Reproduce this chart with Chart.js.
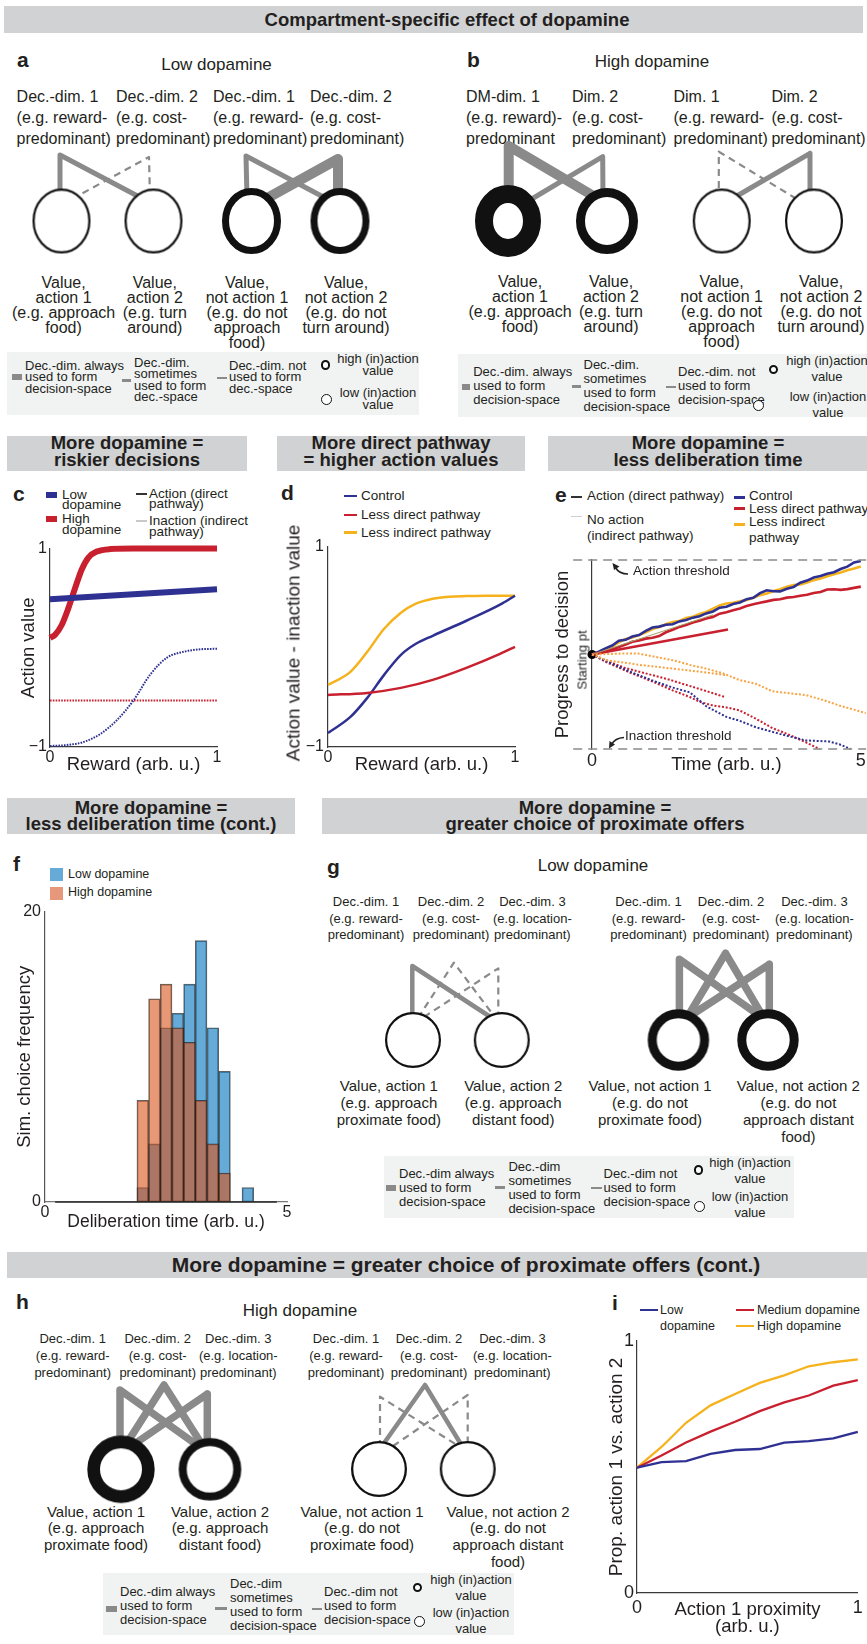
<!DOCTYPE html>
<html>
<head>
<meta charset="utf-8">
<title>Compartment-specific effect of dopamine</title>
<script src="https://cdn.jsdelivr.net/npm/chart.js@4.4.1/dist/chart.umd.min.js"></script>
<style>
html,body{margin:0;padding:0;background:#fff;}
#fig{position:relative;width:867px;height:1644px;overflow:hidden;font-family:"Liberation Sans",Arial,Helvetica,sans-serif;color:#231f20;}
.t{position:absolute;white-space:pre;}
.band{position:absolute;background:#d1d2d4;}
.box{position:absolute;background:#f1f2f2;}
.sw{position:absolute;}
canvas{position:absolute;}
</style>
</head>
<body>
<div id="fig"></div>
<script>
// ---------------- data ----------------
// c: action value vs reward (solid = direct pathway, dotted = indirect pathway)
const cHighActX   = [0, 0.03, 0.07, 0.11, 0.15, 0.19, 0.23, 0.28, 0.36, 0.5, 1.0];
const cHighActY   = [0.10, 0.13, 0.23, 0.40, 0.60, 0.79, 0.91, 0.97, 0.995, 1.0, 1.0];
const cLowActX    = [0, 1];
const cLowActY    = [0.49, 0.59];
const cLowInactX  = [0, 0.1, 0.2, 0.3, 0.4, 0.5, 0.6, 0.7, 0.8, 0.9, 1.0];
const cLowInactY  = [-0.99, -0.98, -0.95, -0.87, -0.73, -0.53, -0.27, -0.10, -0.04, -0.015, -0.01];
const cHighInactX = [0, 1];
const cHighInactY = [-0.53, -0.53];
const cXTicks = ['0', '1'];
const cYTicks = ['\u22121', '1'];

// d: action minus inaction value vs reward
const dCtrlX = [0, 0.12, 0.21, 0.30, 0.39, 0.47, 0.56, 0.74, 0.92, 1.0];
const dCtrlY = [-0.86, -0.70, -0.51, -0.28, -0.08, 0.03, 0.11, 0.26, 0.42, 0.51];
const dLessDirX = [0, 0.21, 0.39, 0.56, 0.74, 0.92, 1.0];
const dLessDirY = [-0.48, -0.46, -0.41, -0.33, -0.21, -0.07, 0.0];
const dLessIndX = [0, 0.12, 0.21, 0.30, 0.39, 0.47, 0.56, 0.65, 0.74, 0.85, 1.0];
const dLessIndY = [-0.38, -0.25, -0.05, 0.18, 0.34, 0.43, 0.48, 0.50, 0.506, 0.51, 0.51];

// e: accumulation towards action / inaction thresholds
const eT = [0, 0.125, 0.25, 0.375, 0.5, 0.625, 0.75, 0.875, 1, 1.125, 1.25, 1.375, 1.5, 1.625, 1.75, 1.875,
            2, 2.125, 2.25, 2.375, 2.5, 2.625, 2.75, 2.875, 3, 3.125, 3.25, 3.375, 3.5, 3.625, 3.75, 3.875,
            4, 4.125, 4.25, 4.375, 4.5, 4.625, 4.75, 4.875, 5, 5.08];
const eCtrlAct = [0, .03, .065, .095, .145, .155, .19, .205, .25, .285, .295, .315, .32, .35, .365, .39,
                  .405, .435, .455, .495, .505, .535, .55, .585, .6, .65, .68, .67, .668, .695, .715, .76,
                  .782, .815, .83, .855, .87, .905, .93, .975, .99, 1.0];
const eLessIndAct = [0, .02, .05, .085, .13, .165, .18, .205, .235, .27, .29, .32, .345, .355, .385, .4,
                     .43, .45, .485, .52, .54, .548, .562, .578, .6, .628, .645, .672, .69, .718, .735, .742,
                     .762, .787, .805, .828, .85, .868, .892, .91, .93, .945];
const eLessDirAct = [0, .015, .03, .055, .08, .105, .135, .148, .168, .178, .195, .235, .262, .292, .312, .338,
                     .358, .382, .398, .432, .448, .468, .488, .512, .532, .548, .562, .578, .585, .602, .608, .622,
                     .632, .65, .662, .688, .69, .684, .692, .705, .718, .735];
const eLessDirMeanT = [0, 2.53];
const eLessDirMeanY = [0, 0.265];
const eNoActMeanT = [0, 2.25];
const eNoActMeanY = [0, 0.42];
const eLessIndInactAT = [0, 0.55, 0.86, 1.5, 1.82, 2.13, 2.44, 2.74, 3.05, 3.36, 3.67, 3.98, 4.29, 4.6, 4.91, 5.09];
const eLessIndInactAY = [0, 0.01, 0.01, -0.06, -0.11, -0.15, -0.20, -0.27, -0.31, -0.39, -0.41, -0.43, -0.48, -0.54, -0.59, -0.62];
const eLessIndInactBT = [0, 0.27, 0.89, 1.51, 2.13, 2.5];
const eLessIndInactBY = [0, -0.06, -0.11, -0.15, -0.19, -0.22];
const eLessDirInactAT = [0, 0.3, 0.6, 1.0, 1.4, 1.8, 2.2, 2.47];
const eLessDirInactAY = [0, -0.07, -0.14, -0.20, -0.26, -0.33, -0.40, -0.45];
const eLessDirInactBT = [0, 0.3, 0.7, 1.1, 1.5, 1.82, 2.0, 2.25, 2.5, 2.74, 3.05, 3.36, 3.67, 3.98, 4.23];
const eLessDirInactBY = [0, -0.09, -0.19, -0.28, -0.38, -0.45, -0.50, -0.54, -0.56, -0.59, -0.68, -0.78, -0.85, -0.93, -1.0];
const eCtrlInactT = [0, 0.3, 0.7, 1.1, 1.5, 1.82, 2.13, 2.5, 2.74, 3.05, 3.49, 3.98, 4.41, 4.6, 4.81];
const eCtrlInactY = [0, -0.08, -0.18, -0.27, -0.35, -0.40, -0.55, -0.66, -0.70, -0.77, -0.84, -0.91, -0.92, -0.95, -1.0];
const eThresholds = [1, -1];
const eXTicks = ['0', '5'];

// f: histogram of simulated deliberation times
const fBinCenters = [0.331, 0.572, 0.814, 1.055, 1.296, 1.537, 1.779, 2.020, 2.261, 2.503,
                     2.744, 2.985, 3.226, 3.468, 3.709, 3.950, 4.191, 4.433, 4.674];
const fLowDop  = [0, 0, 0, 0, 0, 0, 0, 1, 4, 12, 13, 15, 18, 12, 9, 0, 1, 0, 0];
const fHighDop = [0, 0, 0, 0, 0, 0, 0, 7, 14, 15, 12, 11, 7, 4, 2, 0, 0, 0, 0];
const fBinRange = [0.21, 4.79];
const fXTicks = ['0', '5'];
const fYTicks = ['0', '20'];

// i: proportion choosing action 1 vs proximity
const iProximity = [0, 0.111, 0.222, 0.333, 0.444, 0.556, 0.667, 0.778, 0.889, 1.0];
const iLowDop    = [0.497, 0.519, 0.523, 0.552, 0.567, 0.571, 0.596, 0.602, 0.613, 0.639];
const iMedDop    = [0.497, 0.545, 0.597, 0.640, 0.679, 0.721, 0.756, 0.783, 0.822, 0.844];
const iHighDop   = [0.497, 0.579, 0.675, 0.744, 0.789, 0.833, 0.863, 0.899, 0.915, 0.926];
const iXTicks = ['0', '1'];
const iYTicks = ['0', '1'];

// ---------------- style ----------------
const BLUE = '#2e3192', RED = '#c8202f', YEL = '#f5b21d', ORANGE = '#f8a444';
const GREY = '#8a8a8a', INK = '#231f20';
const FONT = '"Liberation Sans", Arial, Helvetica, sans-serif';

Chart.defaults.font.family = FONT;
Chart.defaults.color = INK;
Chart.defaults.animation = false;
Chart.defaults.responsive = false;
Chart.defaults.maintainAspectRatio = false;
Chart.defaults.devicePixelRatio = 1;
Chart.defaults.events = [];
Chart.defaults.layout.autoPadding = false;
Chart.defaults.plugins.legend.display = false;
Chart.defaults.plugins.tooltip.enabled = false;

const fig = document.getElementById('fig');

// ---------------- html helpers ----------------
function text(lines, x, y, o = {}) {
  const size = o.size || 16, lh = o.lh || size * 1.15, align = o.align || 'left';
  const d = document.createElement('div');
  d.className = 't';
  d.style.fontSize = size + 'px';
  d.style.lineHeight = lh + 'px';
  if (o.bold) d.style.fontWeight = 'bold';
  d.style.textAlign = align;
  d.textContent = Array.isArray(lines) ? lines.join('\n') : lines;
  d.style.top = (y - lh / 2) + 'px';
  d.style.left = x + 'px';
  const tx = align === 'center' ? '-50%' : align === 'right' ? '-100%' : '0';
  d.style.transform = 'translateX(' + tx + ')';
  fig.appendChild(d);
  return d;
}
function vtext(str, cx, cy, size) {
  const d = document.createElement('div');
  d.className = 't';
  d.style.fontSize = size + 'px';
  d.style.lineHeight = size + 'px';
  d.textContent = str;
  d.style.left = cx + 'px';
  d.style.top = cy + 'px';
  d.style.transform = 'translate(-50%,-50%) rotate(-90deg)';
  fig.appendChild(d);
}
function rect(cls, l, t, w, h, extra = {}) {
  const d = document.createElement('div');
  d.className = cls;
  Object.assign(d.style, {left: l + 'px', top: t + 'px', width: w + 'px', height: h + 'px'}, extra);
  fig.appendChild(d);
  return d;
}
function ring(cx, cy, r, bw) {
  rect('sw', cx - r, cy - r, 2 * r - 2 * bw, 2 * r - 2 * bw,
       {border: bw + 'px solid #111', borderRadius: '50%', boxSizing: 'content-box', background: '#fff'});
}
function swatch(l, t, w, h, color) { rect('sw', l, t, w, h, {background: color}); }
function dashSwatch(l, y, w) { rect('sw', l, y - 1, w, 0, {borderTop: '2px dashed ' + GREY}); }
function canvasAt(l, t, w, h) {
  const c = document.createElement('canvas');
  c.width = w; c.height = h;
  Object.assign(c.style, {left: l + 'px', top: t + 'px', width: w + 'px', height: h + 'px'});
  fig.appendChild(c);
  return c;
}

// ---------------- chart helpers ----------------
const pts = (xs, ys) => xs.map((x, i) => ({x, y: ys[i]}));
function series(xs, ys, color, width, extra = {}) {
  return Object.assign({data: pts(xs, ys), showLine: true, borderColor: color, backgroundColor: color,
    borderWidth: width, pointRadius: 0, fill: false, clip: false}, extra);
}
function axis(o) {
  return {
    type: 'linear', min: o.min, max: o.max, offset: false, reverse: !!o.reverse,
    display: o.display !== false,
    grid: {display: false, drawTicks: false},
    border: {display: o.border !== false, color: o.borderColor || '#3a3a3a', width: 1.2},
    ticks: {display: !!o.labels, font: {size: o.tickSize || 16}, padding: o.tickPad ?? 3,
            color: INK, maxRotation: 0, autoSkip: false,
            callback: (v, i) => o.labels ? o.labels[i] : ''},
    afterBuildTicks: s => { s.ticks = [{value: o.min}, {value: o.max}]; },
    title: o.title ? {display: true, text: o.title, color: INK,
            font: {size: o.titleSize || 18.5, lineHeight: o.titleLH || 1.2}, padding: o.titlePad || 0}
                   : {display: false},
    afterFit: s => { if (o.fit != null) { if (s.isHorizontal()) s.height = o.fit; else s.width = o.fit; } }
  };
}
function plot(box, type, datasets, scales, padding) {
  const cv = canvasAt(box.l, box.t, box.w, box.h);
  return new Chart(cv, {type, data: {datasets}, options: {layout: {padding, autoPadding: false}, scales}});
}

// value node drawn as an (elliptical) ring, used as a point style
function ringImage(rx, ry, bw) {
  const c = document.createElement('canvas');
  c.width = Math.ceil(2 * rx + 2); c.height = Math.ceil(2 * ry + 2);
  const g = c.getContext('2d');
  g.beginPath();
  g.ellipse(c.width / 2, c.height / 2, rx - bw / 2, ry - bw / 2, 0, 0, Math.PI * 2);
  g.fillStyle = '#fff'; g.fill();
  g.lineWidth = bw; g.strokeStyle = '#111'; g.stroke();
  return c;
}

// schematic: decision dimensions (grey links) feeding value nodes (rings)
const LINK = {
  ab: {always: {w: 10}, some: {w: 5}, not: {w: 2.2, dash: [7, 5]}},
  gh: {always: {w: 7.5}, some: {w: 4.5}, not: {w: 2.2, dash: [7, 5]}}
};
function schematic(box, links, nodes, kinds) {
  const ds = [];
  links.forEach(k => {
    const st = kinds[k.kind];
    ds.push({data: k.pts.map(p => ({x: p[0], y: p[1]})), showLine: true, borderColor: GREY,
      borderWidth: st.w, borderDash: st.dash || [], borderJoinStyle: 'round', borderCapStyle: 'butt',
      pointRadius: 0, clip: false, order: 2});
  });
  nodes.forEach(n => {
    ds.push({data: [{x: n.x, y: n.y}], showLine: false, pointStyle: ringImage(n.rx, n.ry || n.rx, n.bw),
      pointRadius: n.rx, clip: false, order: 0});
  });
  plot(box, 'scatter', ds, {
    x: {type: 'linear', display: false, min: box.l, max: box.l + box.w},
    y: {type: 'linear', display: false, min: box.t, max: box.t + box.h, reverse: true}
  }, 0);
}

// legend box used in the schematic panels
function schemeLegend(L) {
  rect('box', L.box[0], L.box[1], L.box[2], L.box[3]);
  swatch(L.thick[0], L.thick[1] - 3, L.thick[2], 6, GREY);
  text(L.t1, L.thick[0] + L.thick[2] + 3, L.r1, {size: 13, lh: L.lh});
  swatch(L.thin[0], L.thin[1] - 1.5, L.thin[2], 3, GREY);
  text(L.t2, L.thin[0] + L.thin[2] + 3, L.r2, {size: 13, lh: L.lh});
  dashSwatch(L.dash[0], L.dash[1], L.dash[2]);
  text(L.t3, L.dash[0] + L.dash[2] + 2, L.r1, {size: 13, lh: L.lh});
  ring(L.hi[0], L.hi[1], 5.5, 2.6);
  text(['high (in)action', 'value'], L.hiT[0], L.hiT[1], {size: 13, lh: L.hlh, align: 'center'});
  ring(L.lo[0], L.lo[1], 5.5, 1);
  text(['low (in)action', 'value'], L.loT[0], L.loT[1], {size: 13, lh: L.hlh, align: 'center'});
}

// ---------------- banners ----------------
rect('band', 4, 6, 859, 27);
text('Compartment-specific effect of dopamine', 447, 19.5, {size: 18.5, bold: true, align: 'center'});
rect('band', 7, 436, 240, 35);
text(['More dopamine =', 'riskier decisions'], 127, 443.5, {size: 18.5, lh: 16.6, bold: true, align: 'center'});
rect('band', 277, 436, 248, 35);
text(['More direct pathway', '= higher action values'], 401, 443.5, {size: 18.5, lh: 16.6, bold: true, align: 'center'});
rect('band', 548, 436, 319, 35);
text(['More dopamine =', 'less deliberation time'], 708, 443.5, {size: 18.5, lh: 16.6, bold: true, align: 'center'});
rect('band', 7, 798, 288, 36);
text(['More dopamine =', 'less deliberation time (cont.)'], 151, 808, {size: 18.5, lh: 16.6, bold: true, align: 'center'});
rect('band', 322, 798, 545, 36);
text(['More dopamine =', 'greater choice of proximate offers'], 595, 808, {size: 18.5, lh: 16.6, bold: true, align: 'center'});
rect('band', 7, 1252, 860, 26);
text('More dopamine = greater choice of proximate offers (cont.)', 466, 1265.5, {size: 21, bold: true, align: 'center'});

// ---------------- panel letters ----------------
[['a', 17, 60], ['b', 467, 60], ['c', 13, 494], ['d', 281, 493], ['e', 555, 495],
 ['f', 13, 864], ['g', 327, 867], ['h', 16, 1302], ['i', 612, 1303]]
  .forEach(p => text(p[0], p[1], p[2], {size: 21, bold: true}));

// ---------------- panel a ----------------
text('Low dopamine', 216.5, 65, {size: 17, align: 'center'});
const dimA = [['Dec.-dim. 1', '(e.g. reward-', 'predominant)'], ['Dec.-dim. 2', '(e.g. cost-', 'predominant)']];
[[16.6, dimA[0]], [116, dimA[1]], [213, dimA[0]], [310, dimA[1]]]
  .forEach(c => text(c[1], c[0], 96, {size: 16, lh: 21}));
const valAB = [['Value,', 'action 1', '(e.g. approach', 'food)'],
               ['Value,', 'action 2', '(e.g. turn', 'around)'],
               ['Value,', 'not action 1', '(e.g. do not', 'approach', 'food)'],
               ['Value,', 'not action 2', '(e.g. do not', 'turn around)']];
[63.6, 154.8, 247, 346].forEach((x, i) => text(valAB[i], x, 282.5, {size: 16, lh: 15, align: 'center'}));
schematic({l: 0, t: 130, w: 440, h: 145}, [
  {kind: 'some',   pts: [[60, 198], [60, 155], [147, 201]]},
  {kind: 'not',    pts: [[72, 199], [149, 157], [150, 198]]},
  {kind: 'some',   pts: [[247, 198], [246, 156], [331, 201]]},
  {kind: 'always', pts: [[262, 201], [338, 159], [338, 198]]}
], [
  {x: 61.5, y: 221, rx: 29, ry: 32.5, bw: 2.2}, {x: 153.5, y: 221, rx: 29, ry: 32.5, bw: 2.2},
  {x: 251.5, y: 221, rx: 29.5, ry: 33, bw: 7}, {x: 340, y: 221, rx: 29.5, ry: 33, bw: 7}
], LINK.ab);
schemeLegend({box: [7, 352, 412, 63], lh: 11.5, hlh: 12,
  thick: [12, 377, 10], t1: ['Dec.-dim. always', 'used to form', 'decision-space'], r1: 365.7,
  thin: [121.6, 380, 9.5], t2: ['Dec.-dim.', 'sometimes', 'used to form', 'dec.-space'], r2: 362.7,
  dash: [217, 378, 10], t3: ['Dec.-dim. not', 'used to form', 'dec.-space'],
  hi: [326, 365.7], hiT: [378, 359], lo: [326, 399], loT: [378, 393.3]});

// ---------------- panel b ----------------
text('High dopamine', 652, 62, {size: 17, align: 'center'});
[[466, ['DM-dim. 1', '(e.g. reward)-', 'predominant']], [572, ['Dim. 2', '(e.g. cost-', 'predominant)']],
 [673.5, ['Dim. 1', '(e.g. reward-', 'predominant)']], [771.4, ['Dim. 2', '(e.g. cost-', 'predominant)']]]
  .forEach(c => text(c[1], c[0], 96, {size: 16, lh: 21}));
[520, 611, 721.6, 821].forEach((x, i) => text(valAB[i], x, 281.5, {size: 16, lh: 15, align: 'center'}));
schematic({l: 440, t: 130, w: 427, h: 145}, [
  {kind: 'always', pts: [[508.7, 203], [508.7, 146], [602, 201]]},
  {kind: 'some',   pts: [[530, 200], [602.7, 156.7], [603, 200]]},
  {kind: 'not',    pts: [[718.8, 200], [718.8, 151.7], [800, 201]]},
  {kind: 'some',   pts: [[730, 200], [810, 153.3], [810, 200]]}
], [
  {x: 508, y: 221, rx: 33, ry: 36, bw: 18}, {x: 607, y: 221, rx: 31, ry: 33, bw: 9},
  {x: 721.7, y: 221, rx: 29, ry: 32.5, bw: 2.2}, {x: 814, y: 221, rx: 29, ry: 32.5, bw: 2.2}
], LINK.ab);
schemeLegend({box: [458, 354, 409, 63], lh: 14, hlh: 16,
  thick: [461.7, 387, 8.5], t1: ['Dec.-dim. always', 'used to form', 'decision-space'], r1: 371.7,
  thin: [572, 386, 8.5], t2: ['Dec.-dim.', 'sometimes', 'used to form', 'decision-space'], r2: 365,
  dash: [666, 387, 10], t3: ['Dec.-dim. not', 'used to form', 'decision-space'],
  hi: [774, 370], hiT: [827, 360.7], lo: [758.6, 405], loT: [828, 396.7]});

// ---------------- panel c ----------------
swatch(46, 492, 11, 6, BLUE);
text(['Low', 'dopamine'], 62, 495, {size: 13.5, lh: 10.5});
swatch(46, 516, 11, 6, RED);
text(['High', 'dopamine'], 62, 519.5, {size: 13.5, lh: 10.5});
swatch(136, 493.3, 11, 1.5, '#333');
text(['Action (direct', 'pathway)'], 149, 494, {size: 13.5, lh: 10.5});
swatch(136, 520.3, 11, 1.5, '#c8c8c8');
text(['Inaction (indirect', 'pathway)'], 149, 521.5, {size: 13.5, lh: 10.5});
plot({l: 0, t: 536, w: 226, h: 244}, 'scatter', [
  series(cLowInactX, cLowInactY, BLUE, 2, {borderDash: [1.6, 1.2], cubicInterpolationMode: 'monotone'}),
  series(cHighInactX, cHighInactY, RED, 2, {borderDash: [1.6, 1.2]}),
  series(cLowActX, cLowActY, BLUE, 6),
  series(cHighActX, cHighActY, RED, 6, {cubicInterpolationMode: 'monotone'})
], {
  x: axis({min: 0, max: 1, labels: cXTicks, fit: 33, tickPad: 0.5, title: 'Reward (arb. u.)', titlePad: {top: 0, bottom: 3.9}}),
  y: axis({min: -1, max: 1, labels: cYTicks, fit: 50, tickPad: 3, title: 'Action value', titlePad: {top: 18, bottom: 0}})
}, {top: 10, right: 9, left: 0, bottom: 0});

// ---------------- panel d ----------------
swatch(344, 494.5, 13, 2.6, BLUE);
text('Control', 361, 495.7, {size: 13.5});
swatch(344, 513.7, 13, 2.6, RED);
text('Less direct pathway', 361, 515, {size: 13.5});
swatch(344, 531.4, 13, 2.6, YEL);
text('Less indirect pathway', 361, 532.7, {size: 13.5});
plot({l: 280, t: 533, w: 245, h: 247}, 'scatter', [
  series(dLessDirX, dLessDirY, RED, 2.5, {cubicInterpolationMode: 'monotone'}),
  series(dCtrlX, dCtrlY, BLUE, 2.5, {cubicInterpolationMode: 'monotone'}),
  series(dLessIndX, dLessIndY, YEL, 2.5, {cubicInterpolationMode: 'monotone'})
], {
  x: axis({min: 0, max: 1, labels: cXTicks, fit: 33, tickPad: 0.5, title: 'Reward (arb. u.)', titlePad: {top: 0, bottom: 3.9}}),
  y: axis({min: -1, max: 1, labels: cYTicks, fit: 48, tickPad: 4})
}, {top: 10, right: 10, left: 0, bottom: 0});
// the y title is longer than the plot is tall, so it is set outside the canvas
vtext('Action value - inaction value', 293, 642.5, 19);

// ---------------- panel e ----------------
swatch(571, 496.3, 11, 1.4, '#333');
text('Action (direct pathway)', 587, 496, {size: 13.5});
swatch(571, 516.3, 11, 1.2, '#d0d0d0');
text(['No action', '(indirect pathway)'], 587, 520, {size: 13.5, lh: 16});
swatch(734, 495.5, 11, 3, BLUE);
text('Control', 749, 496, {size: 13.5});
swatch(734, 506.5, 11, 3, RED);
text('Less direct pathway', 749, 508.7, {size: 13.5});
swatch(734, 522.5, 11, 3, YEL);
text(['Less indirect', 'pathway'], 749, 521.7, {size: 13.5, lh: 16});
const eDot = {borderDash: [2, 1.8]};
plot({l: 548, t: 540, w: 319, h: 240}, 'scatter', [
  series([-0.35, 5.1], [eThresholds[0], eThresholds[0]], GREY, 1.6, {borderDash: [9, 6]}),
  series([-0.35, 5.1], [eThresholds[1], eThresholds[1]], GREY, 1.6, {borderDash: [9, 6]}),
  series(eLessIndInactAT, eLessIndInactAY, ORANGE, 2, eDot),
  series(eLessIndInactBT, eLessIndInactBY, ORANGE, 2, eDot),
  series(eCtrlInactT, eCtrlInactY, BLUE, 2, eDot),
  series(eLessDirInactAT, eLessDirInactAY, RED, 2, eDot),
  series(eLessDirInactBT, eLessDirInactBY, RED, 2, eDot),
  series(eNoActMeanT, eNoActMeanY, '#a29f62', 1),
  series(eLessDirMeanT, eLessDirMeanY, RED, 2.6),
  series(eT, eLessDirAct, RED, 2.6),
  series(eT, eCtrlAct, BLUE, 2.6),
  series(eT, eLessIndAct, YEL, 2.6),
  {data: [{x: 0, y: 0}], showLine: false, pointRadius: 4.5, pointBackgroundColor: '#000', pointBorderWidth: 0, clip: false}
], {
  x: axis({min: 0, max: 5, labels: eXTicks, fit: 31, tickSize: 18, tickPad: 1.2, border: false, title: 'Time (arb. u.)', titlePad: {top: 0, bottom: 3.9}}),
  y: axis({min: -1, max: 1, fit: 44, title: 'Progress to decision', titlePad: {top: 4.2, bottom: 0}})
}, {top: 20, right: 5, left: 0, bottom: 0});
vtext('Starting pt', 582.3, 660, 13);
text('Action threshold', 633, 571, {size: 13.5});
text('Inaction threshold', 625, 736, {size: 13.5});
(function arrows() {
  const ns = 'http://www.w3.org/2000/svg';
  const svg = document.createElementNS(ns, 'svg');
  svg.setAttribute('width', 867); svg.setAttribute('height', 800);
  Object.assign(svg.style, {position: 'absolute', left: 0, top: 0, overflow: 'visible'});
  const paths = ['M628 574 Q619 574 615.5 567.5', 'M624 737.5 Q615 738 611.5 744.5'];
  const heads = ['M612.5 563 L619.5 566.5 L614 570 Z', 'M609 748.5 L609.5 741 L615 744.5 Z'];
  paths.forEach(p => { const e = document.createElementNS(ns, 'path'); e.setAttribute('d', p);
    e.setAttribute('fill', 'none'); e.setAttribute('stroke', '#222'); e.setAttribute('stroke-width', '1.6'); svg.appendChild(e); });
  heads.forEach(p => { const e = document.createElementNS(ns, 'path'); e.setAttribute('d', p);
    e.setAttribute('fill', '#222'); svg.appendChild(e); });
  fig.appendChild(svg);
})();

// ---------------- panel f ----------------
swatch(50, 868, 13, 13, '#66aad7');
text('Low dopamine', 68, 874, {size: 12.5});
swatch(50, 886.7, 13, 13, '#e8987a');
text('High dopamine', 68, 892, {size: 12.5});
plot({l: 0, t: 898, w: 300, h: 336}, 'bar', [
  Object.assign(series(fBinRange, [0, 0], '#2a2a2a', 1.6), {type: 'line', order: 0}),
  {type: 'bar', data: pts(fBinCenters, fHighDop), backgroundColor: 'rgba(217,83,25,0.6)',
   borderColor: 'rgba(30,30,30,0.7)', borderWidth: 1, borderSkipped: false, order: 1,
   grouped: false, barPercentage: 1, categoryPercentage: 1},
  {type: 'bar', data: pts(fBinCenters, fLowDop), backgroundColor: 'rgba(0,114,189,0.6)',
   borderColor: 'rgba(30,30,30,0.7)', borderWidth: 1, borderSkipped: false, order: 2,
   grouped: false, barPercentage: 1, categoryPercentage: 1}
], {
  x: axis({min: 0, max: 5, labels: fXTicks, fit: 32, tickPad: 1.4, borderColor: '#777', title: 'Deliberation time (arb. u.)', titleSize: 17.5, titlePad: {top: 0, bottom: 1.5}}),
  y: axis({min: 0, max: 20, labels: fYTicks, fit: 45, tickPad: 4, borderColor: '#555', title: 'Sim. choice frequency', titlePad: {top: 13.9, bottom: 0}})
}, {top: 10, right: 13, left: 0, bottom: 0});

// ---------------- panel g ----------------
text('Low dopamine', 593, 866, {size: 17, align: 'center'});
const dimGH = [['Dec.-dim. 1', '(e.g. reward-', 'predominant)'], ['Dec.-dim. 2', '(e.g. cost-', 'predominant)'],
               ['Dec.-dim. 3', '(e.g. location-', 'predominant)']];
[366, 451, 532.4, 648.5, 731, 814.4].forEach((x, i) => text(dimGH[i % 3], x, 902.7, {size: 13, lh: 16.5, align: 'center'}));
const valGH = [['Value, action 1', '(e.g. approach', 'proximate food)'],
               ['Value, action 2', '(e.g. approach', 'distant food)'],
               ['Value, not action 1', '(e.g. do not', 'proximate food)'],
               ['Value, not action 2', '(e.g. do not', 'approach distant', 'food)']];
[388.9, 513.2, 650, 798.4].forEach((x, i) => text(valGH[i], x, 1086.7, {size: 15, lh: 16.8, align: 'center'}));
schematic({l: 320, t: 940, w: 547, h: 140}, [
  {kind: 'some',   pts: [[412.3, 1018], [412.3, 966], [492, 1018]]},
  {kind: 'not',    pts: [[418, 1018], [453.9, 962.7], [494, 1016]]},
  {kind: 'not',    pts: [[424, 1017], [498.3, 968.3], [498.3, 1017]]},
  {kind: 'always', pts: [[679.4, 1016], [679.4, 959.3], [760, 1016]]},
  {kind: 'always', pts: [[688, 1016], [725.6, 953.3], [762, 1015]]},
  {kind: 'always', pts: [[690, 1016], [769.3, 964.3], [769.3, 1016]]}
], [
  {x: 413, y: 1040, rx: 28, bw: 2.2}, {x: 501.8, y: 1040, rx: 28, bw: 2.2},
  {x: 678.4, y: 1040, rx: 30.7, bw: 9}, {x: 768, y: 1040, rx: 30.7, bw: 9}
], LINK.gh);
const ghT1 = ['Dec.-dim always', 'used to form', 'decision-space'];
const ghT2 = ['Dec.-dim', 'sometimes', 'used to form', 'decision-space'];
const ghT3 = ['Dec.-dim not', 'used to form', 'decision-space'];
schemeLegend({box: [384, 1156, 410, 62], lh: 14, hlh: 16,
  thick: [386, 1188, 10], t1: ghT1, r1: 1174,
  thin: [495.4, 1187, 10], t2: ghT2, r2: 1166.7,
  dash: [590.6, 1188, 11], t3: ghT3,
  hi: [699, 1170.7], hiT: [750, 1162.7], lo: [699.7, 1206], loT: [750, 1197.3]});

// ---------------- panel h ----------------
text('High dopamine', 300, 1311, {size: 17, align: 'center'});
[72.7, 157.7, 238.3, 346, 429, 512.4].forEach((x, i) => text(dimGH[i % 3], x, 1339.5, {size: 13, lh: 16.8, align: 'center'}));
[96, 220, 362, 508].forEach((x, i) => text(valGH[i], x, 1512, {size: 15, lh: 16.8, align: 'center'}));
schematic({l: 0, t: 1370, w: 560, h: 140}, [
  {kind: 'always', pts: [[120, 1445], [120, 1390], [197, 1445]]},
  {kind: 'always', pts: [[127, 1443], [164, 1385], [201, 1443]]},
  {kind: 'always', pts: [[133, 1445], [207.3, 1394], [207.3, 1445]]},
  {kind: 'not',    pts: [[380, 1447], [380, 1396.7], [460, 1447]]},
  {kind: 'some',   pts: [[382, 1446], [425, 1385], [462, 1446]]},
  {kind: 'not',    pts: [[393, 1446], [467.7, 1395], [467.7, 1447]]}
], [
  {x: 121, y: 1469.3, rx: 33.7, bw: 12.7}, {x: 210, y: 1469.3, rx: 31.3, bw: 8},
  {x: 379, y: 1469, rx: 28, bw: 2.3}, {x: 467.7, y: 1469, rx: 28, bw: 2.3}
], LINK.gh);
schemeLegend({box: [103, 1573, 411, 62], lh: 14, hlh: 16,
  thick: [106, 1609, 11], t1: ghT1, r1: 1591.7,
  thin: [215, 1608, 12], t2: ghT2, r2: 1584,
  dash: [312, 1609, 10], t3: ghT3,
  hi: [418, 1588], hiT: [471, 1580], lo: [419, 1621], loT: [471, 1613]});

// ---------------- panel i ----------------
swatch(640, 1308.8, 18, 2.5, BLUE);
text(['Low', 'dopamine'], 660, 1310, {size: 12.5, lh: 16});
swatch(735.7, 1308.8, 18, 2.5, RED);
text('Medium dopamine', 757, 1310, {size: 12.5});
swatch(735.7, 1324.8, 18, 2.5, YEL);
text('High dopamine', 757, 1326, {size: 12.5});
plot({l: 585, t: 1327, w: 282, h: 317}, 'scatter', [
  series(iProximity, iLowDop, BLUE, 2.3),
  series(iProximity, iMedDop, RED, 2.3),
  series(iProximity, iHighDop, YEL, 2.3)
], {
  x: axis({min: 0, max: 1, labels: iXTicks, fit: 51, tickSize: 18, tickPad: 4.2, title: ['Action 1 proximity', '(arb. u.)'], titleLH: 0.9, titlePad: {top: 0, bottom: 9}}),
  y: axis({min: 0, max: 1, labels: iYTicks, fit: 52, tickSize: 18, tickPad: 3, title: 'Prop. action 1 vs. action 2', titleSize: 19, titlePad: {top: 20.3, bottom: 0}})
}, {top: 10, right: 7, left: 0, bottom: 0});
</script>
</body>
</html>
